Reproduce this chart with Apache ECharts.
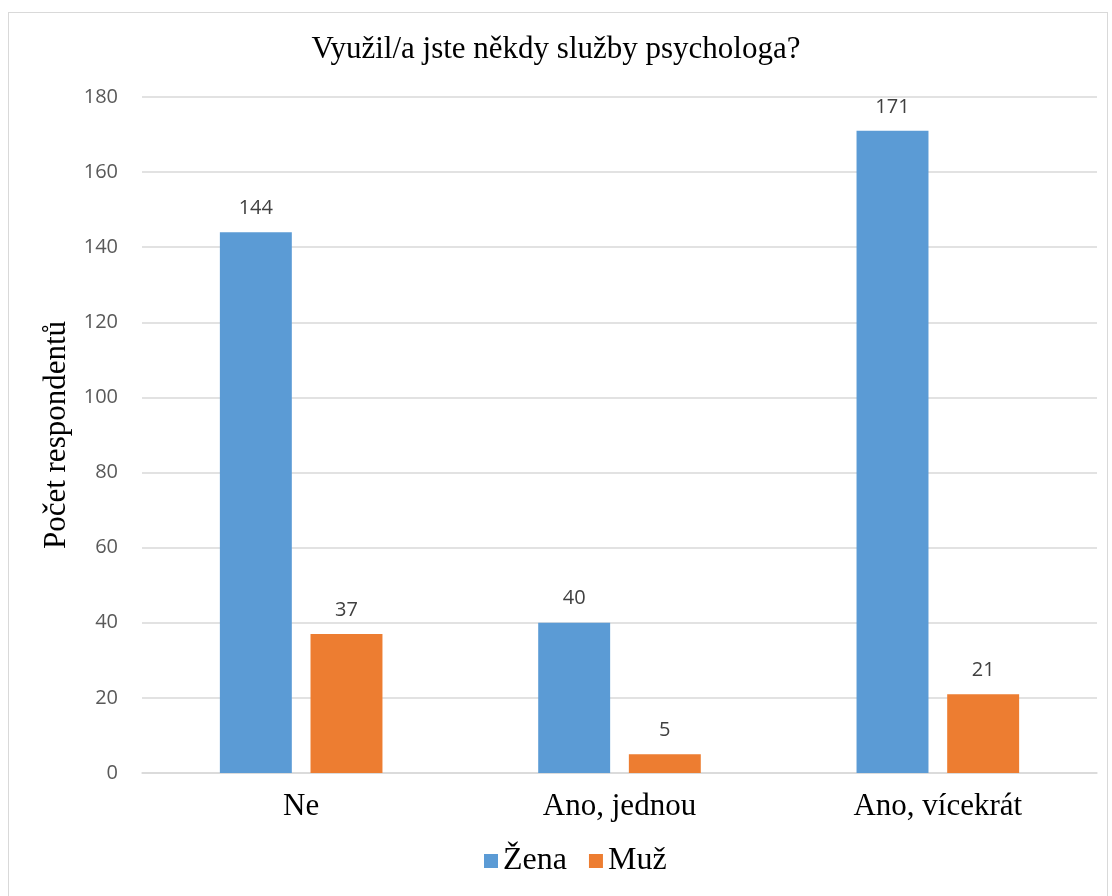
<!DOCTYPE html>
<html><head><meta charset="utf-8">
<script src="https://cdn.jsdelivr.net/npm/echarts@6/dist/echarts.min.js"></script>
<style>
html,body{margin:0;padding:0;background:#fff;}
#frame{position:absolute;left:8px;top:12px;width:1100px;height:900px;border:1px solid #d9d9d9;box-sizing:border-box;}
#c{position:absolute;left:0;top:0;width:1112px;height:896px;}
</style></head>
<body>
<div id="frame"></div>
<div id="c"></div>
<script>
const categories = ['Ne', 'Ano, jednou', 'Ano, vícekrát'];
const zena = [144, 40, 171];
const muz = [37, 5, 21];
const yTicks = {min: 0, max: 180, interval: 20};

const chart = echarts.init(document.getElementById('c'));
const serif = '"Liberation Serif", "DejaVu Serif", serif';
const sans = '"Open Sans", "Liberation Sans", sans-serif';
chart.setOption({
  animation: false,
  title: {
    text: 'Využil/a jste někdy služby psychologa?',
    left: 'center', top: 29,
    textStyle: {fontFamily: serif, fontSize: 31, fontWeight: 'normal', color: '#000'}
  },
  legend: {
    bottom: 14, left: 479,
    itemWidth: 14, itemHeight: 14, itemGap: 22,
    icon: 'rect',
    textStyle: {fontFamily: serif, fontSize: 32, color: '#000'},
    data: ['Žena', 'Muž']
  },
  grid: {left: 142, right: 15, top: 97, bottom: 123, containLabel: false},
  xAxis: {
    type: 'category', data: categories,
    axisLine: {lineStyle: {color: '#d9d9d9', width: 1.5}},
    axisTick: {show: false},
    axisLabel: {fontFamily: serif, fontSize: 31, color: '#000', margin: 18}
  },
  yAxis: {
    type: 'value', min: yTicks.min, max: yTicks.max, interval: yTicks.interval,
    name: 'Počet respondentů', nameLocation: 'middle', nameGap: 68, nameRotate: 90,
    nameTextStyle: {fontFamily: serif, fontSize: 31, color: '#000'},
    axisLine: {show: false}, axisTick: {show: false},
    axisLabel: {fontFamily: sans, fontSize: 20, color: '#595959', margin: 24},
    splitLine: {lineStyle: {color: '#d9d9d9', width: 1.5}}
  },
  series: [
    {name: 'Žena', type: 'bar', data: zena, barWidth: '22.6%', barGap: '26%',
     itemStyle: {color: '#5b9bd5'},
     label: {show: true, position: 'top', distance: 14, fontFamily: sans, fontSize: 20, color: '#404040'}},
    {name: 'Muž', type: 'bar', data: muz, barWidth: '22.6%',
     itemStyle: {color: '#ed7d31'},
     label: {show: true, position: 'top', distance: 14, fontFamily: sans, fontSize: 20, color: '#404040'}}
  ]
});
</script>
</body></html>
